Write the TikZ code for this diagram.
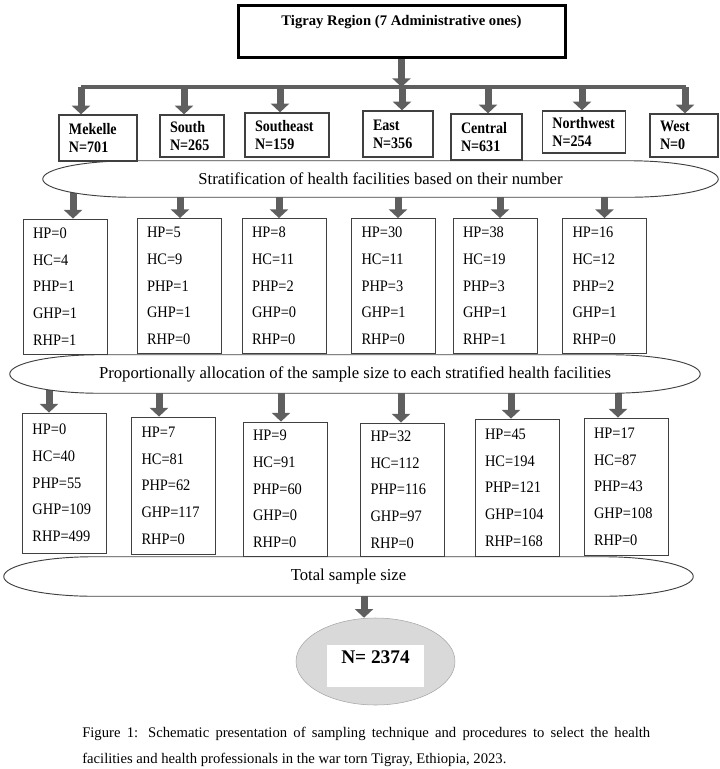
\documentclass[tikz,border=0pt]{standalone}
\usepackage{fontspec}
\setmainfont{Liberation Serif}
\newfontfamily\boxfont[FakeStretch=0.9]{Liberation Serif}
\newfontfamily\zonefont[FakeStretch=0.88]{Liberation Serif}
\usepackage{xcolor}
\usepackage{tikz}
\usetikzlibrary{shapes.geometric,arrows.meta,positioning,calc,backgrounds}

\definecolor{arrowgray}{HTML}{5F5F5F}
\definecolor{edgegray}{HTML}{404040}
\definecolor{resultfill}{HTML}{D9D9D9}
\definecolor{resultedge}{HTML}{A6A6A6}

\newcommand{\stageedge}[2]{%
  \draw[stageline]
    (#1.west) .. controls ($(#1.west)!0.552!(#1.north west)$) and ($([xshift=#2]#1.north west)!0.552!(#1.north west)$) .. ([xshift=#2]#1.north west)
    -- ([xshift=-#2]#1.north east)
    .. controls ($([xshift=-#2]#1.north east)!0.552!(#1.north east)$) and ($(#1.east)!0.552!(#1.north east)$) .. (#1.east)
    .. controls ($(#1.east)!0.552!(#1.south east)$) and ($([xshift=-#2]#1.south east)!0.552!(#1.south east)$) .. ([xshift=-#2]#1.south east)
    -- ([xshift=#2]#1.south west)
    .. controls ($([xshift=#2]#1.south west)!0.552!(#1.south west)$) and ($(#1.west)!0.552!(#1.south west)$) .. cycle;}

\begin{document}
\begin{tikzpicture}[x=0.75pt, y=-0.75pt,
    title/.style={rectangle, draw=black, line width=2.25pt, inner sep=0pt, text height=15pt, text depth=24pt, font=\fontsize{11}{13}\selectfont\bfseries},
    region/.style={rectangle, draw=edgegray, line width=1pt, fill=white, align=left, inner xsep=7.5pt, inner ysep=0pt, font=\zonefont\fontsize{12}{13.5}\selectfont\bfseries},
    count/.style={rectangle, draw=edgegray, line width=0.65pt, fill=white, align=left, text width=48pt, inner xsep=7.5pt, inner ysep=0pt, font=\boxfont\fontsize{12}{20}\selectfont},
    stage/.style={rectangle, inner sep=0pt, font=\fontsize{12.5}{15}\selectfont},
    stageline/.style={draw=edgegray, line width=0.7pt, fill=white},
    line/.style={draw=arrowgray, line width=5.25pt, -{Triangle[width=13.5pt,length=6.5pt]}},
    barline/.style={draw=arrowgray, line width=2.6pt}]

    \useasboundingbox (0,0) rectangle (720,769);

    \node [title, anchor=north, minimum width=245.25pt] (tigray) at (401.5,4) {Tigray Region (7 Administrative ones)};

    \node [region, text width=43.5pt, minimum height=34.5pt] (mekelle) at (98,138) {Mekelle\\N=701};
    \node [region, text width=33pt, minimum height=31.5pt] (south) at (192,136) {South\\N=265};
    \node [region, text width=48pt, minimum height=33pt] (southeast) at (287,135) {Southeast\\N=159};
    \node [region, text width=37.5pt, minimum height=34.5pt] (east) at (398,134) {East\\N=356};
    \node [region, text width=38.25pt, minimum height=34.5pt] (central) at (486.5,137) {Central\\N=631};
    \node [region, text width=47.5pt, minimum height=31.5pt] (northwest) at (584,132) {Northwest\\N=254};
    \node [region, text width=36pt, minimum height=32.25pt] (west) at (684,135.5) {West\\N=0};

    \node [stage, minimum width=506.25pt, minimum height=27pt] (strat) at (380.5,179) {Stratification of health facilities based on their number};

    \node [count, minimum height=101.25pt] (count1) at (65,286.5) {HP=0\\HC=4\\PHP=1\\GHP=1\\RHP=1};
    \node [count, minimum height=101.25pt] (count2) at (179,286) {HP=5\\HC=9\\PHP=1\\GHP=1\\RHP=0};
    \node [count, minimum height=101.25pt] (count3) at (284,286) {HP=8\\HC=11\\PHP=2\\GHP=0\\RHP=0};
    \node [count, minimum height=101.25pt] (count4) at (393.5,286) {HP=30\\HC=11\\PHP=3\\GHP=1\\RHP=0};
    \node [count, minimum height=101.25pt] (count5) at (495,286) {HP=38\\HC=19\\PHP=3\\GHP=1\\RHP=1};
    \node [count, minimum height=101.25pt] (count6) at (604.5,286) {HP=16\\HC=12\\PHP=2\\GHP=1\\RHP=0};

    \node [stage, minimum width=517.5pt, minimum height=28.5pt] (alloc) at (355,374) {Proportionally allocation of the sample size to each stratified health facilities};

    \node [count, minimum height=105pt] (share1) at (64.5,483) {HP=0\\HC=40\\PHP=55\\GHP=109\\RHP=499};
    \node [count, minimum height=102.75pt] (share2) at (173.5,485.5) {HP=7\\HC=81\\PHP=62\\GHP=117\\RHP=0};
    \node [count, minimum height=100.5pt] (share3) at (285,489) {HP=9\\HC=91\\PHP=60\\GHP=0\\RHP=0};
    \node [count, minimum height=99.75pt] (share4) at (402.5,489.5) {HP=32\\HC=112\\PHP=116\\GHP=97\\RHP=0};
    \node [count, minimum height=102.75pt] (share5) at (517,487.5) {HP=45\\HC=194\\PHP=121\\GHP=104\\RHP=168};
    \node [count, minimum height=102.75pt] (share6) at (626,486.5) {HP=17\\HC=87\\PHP=43\\GHP=108\\RHP=0};

    \node [stage, minimum width=516.75pt, minimum height=29.25pt] (total) at (348.5,576.5) {Total sample size};

    \node [ellipse, draw=resultedge, fill=resultfill, minimum width=119.25pt, minimum height=65.25pt, inner sep=0pt] (result) at (375.5,661.5) {};
    \node [anchor=north, fill=white, minimum width=72.75pt, inner sep=0pt, text height=13.5pt, text depth=18pt, font=\fontsize{14.5}{16}\selectfont\bfseries] (resultN) at (375.5,645) {N= 2374};

    \node [anchor=base west, text width=426pt, align=justify, inner sep=0pt, font=\fontsize{11}{19.5}\selectfont] (caption) at (82,737) {Figure 1: Schematic presentation of sampling technique and procedures to select the health\linebreak facilities and health professionals in the war torn Tigray, Ethiopia, 2023.};

    \coordinate (barL) at (81,87);
    \coordinate (barR) at (686,87);
    \coordinate (bar) at (401.5,87);
    \draw [barline] (barL) -- (barR);
    \path [line] (tigray.south) -- (bar);
    \foreach \n/\dx in {mekelle/-17, south/-8, southeast/-7, east/4, central/1.5, northwest/-2, west/1}
        \path [line] ([xshift=\dx*0.75pt]\n.north |- bar) -- ([xshift=\dx*0.75pt]\n.north);

    \begin{scope}[on background layer]
        \foreach \n/\dx in {count1/8, count2/1, count3/-5, count4/4.5, count5/5, count6/0}
            \path [line] ([xshift=\dx*0.75pt]\n.north |- strat.center) -- ([xshift=\dx*0.75pt]\n.north);
        \foreach \n/\dx in {share1/-15.5, share2/-14.5, share3/-4, share4/-1.5, share5/-6, share6/-8}
            \path [line] ([xshift=\dx*0.75pt]\n.north |- alloc.center) -- ([xshift=\dx*0.75pt]\n.north);
        \path [line] ([xshift=-8.6pt]result.north |- total.center) -- ([xshift=-8.6pt]result.north);
        \stageedge{strat}{67.5pt}
        \stageedge{alloc}{67.5pt}
        \stageedge{total}{67.5pt}
    \end{scope}
\end{tikzpicture}
\end{document}
